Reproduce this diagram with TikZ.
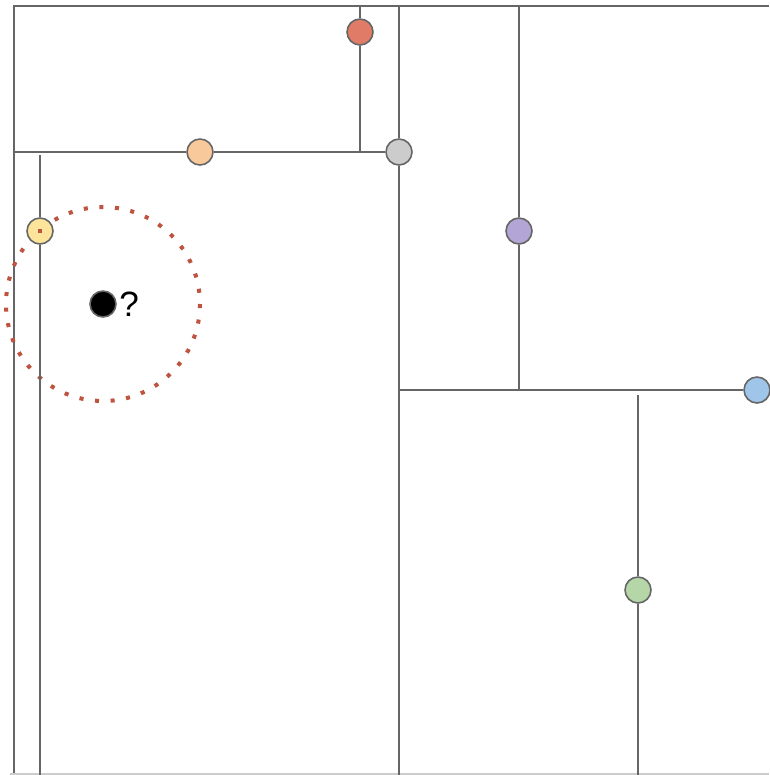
\documentclass[tikz,border=0pt]{standalone}
\usepackage{fontspec}
\setsansfont{Liberation Sans}
\usetikzlibrary{positioning, calc}
\definecolor{splitGray}{HTML}{666666}
\definecolor{frameLight}{HTML}{CCCCCC}
\definecolor{ptRed}{HTML}{E07B67}
\definecolor{ptOrange}{HTML}{F8C99A}
\definecolor{ptGray}{HTML}{CCCCCC}
\definecolor{ptYellow}{HTML}{FDE49B}
\definecolor{ptPurple}{HTML}{B3A6D6}
\definecolor{ptBlue}{HTML}{9FC5E8}
\definecolor{ptGreen}{HTML}{B5D6A7}
\definecolor{searchRed}{HTML}{BE5340}

\begin{document}
\begin{tikzpicture}[
    x=0.02cm, y=-0.02cm,
    split/.style={
        draw=splitGray, line width=1.05pt,
    },
    kdpoint/.style={
        circle, draw=splitGray, line width=0.9pt,
        minimum size=0.52cm, inner sep=0pt,
    },
    query/.style={
        circle, fill=black, draw=splitGray, line width=0.9pt,
        minimum size=0.52cm, inner sep=0pt,
    },
    searchball/.style={
        draw=searchRed, line width=2.3pt,
        dash pattern=on 2.3pt off 6.6pt,
    },
]
\useasboundingbox (0,0) rectangle (769,775);

%--- Frame ---
\coordinate (tl) at (14,6);
\coordinate (tr) at (769,6);
\coordinate (bl) at (14,775);
\coordinate (br) at (769,775);
\draw[split] (bl) -- (tl) -- (tr);
\draw[frameLight, line width=0.8pt] (10,774) -- (769,774);

%--- Search radius round the query ---
\coordinate (qc) at (103,304);
\draw[searchball] (qc) circle (97);

%--- Points of the tree ---
\node[kdpoint, fill=ptGray]   (root)  at (399,152) {};
\node[kdpoint, fill=ptOrange] (left)  at (200,152) {};
\node[kdpoint, fill=ptRed]    (ll)    at (360,32)  {};
\node[kdpoint, fill=ptYellow] (lr)    at (40,231)  {};
\node[kdpoint, fill=ptBlue]   (right) at (757,390) {};
\node[kdpoint, fill=ptPurple] (rl)    at (519,231) {};
\node[kdpoint, fill=ptGreen]  (rr)    at (638,590) {};

%--- Splitting lines ---
\draw[split] (root |- tl) -- (root) -- (root |- bl);
\draw[split] (tl |- left) -- (left) -- (root);
\draw[split] (ll |- tl) -- (ll) -- (ll |- left);
\draw[split] (40,155) -- (lr) -- (lr |- bl);
\draw[split] (root |- right) -- (right) -- (tr |- right);
\draw[split] (rl |- tl) -- (rl) -- (rl |- right);
\draw[split] (638,395) -- (rr) -- (rr |- bl);

%--- Query point ---
\node[query] (q) at (qc) {};
\node[font=\sffamily\fontsize{20}{23}\selectfont, right=-2pt of q] (qlabel) {?};
\fill[searchRed] ($(lr)+(-1.6,-1.6)$) rectangle ($(lr)+(1.6,1.6)$);

\end{tikzpicture}
\end{document}
